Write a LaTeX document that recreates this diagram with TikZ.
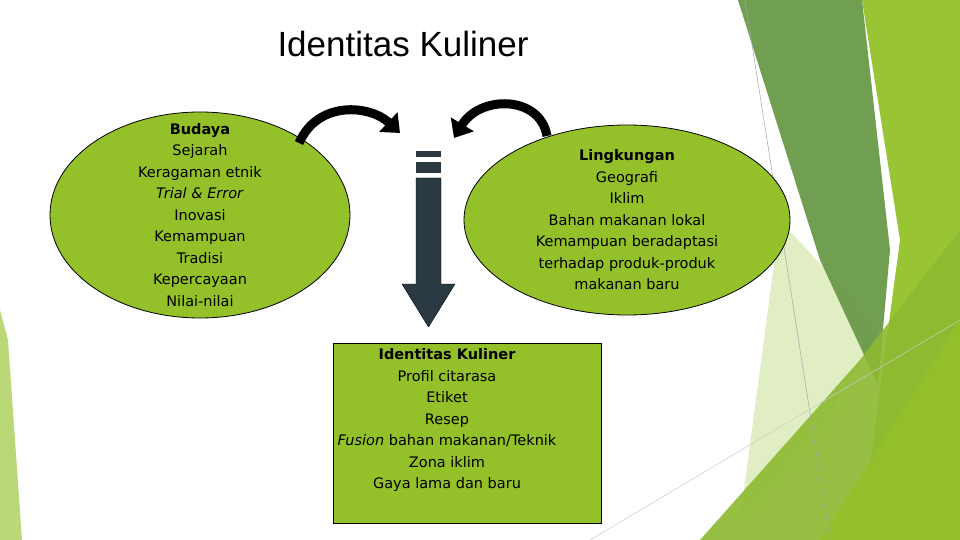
\documentclass[tikz,border=0pt]{standalone}
\usepackage{fontspec}
\setmainfont{DejaVu Sans}
\newfontfamily\titlefont{Liberation Sans}
\usetikzlibrary{arrows.meta,shapes.geometric}
\definecolor{leaf}{HTML}{94C12A}
\definecolor{dkleaf}{HTML}{6A9A48}
\definecolor{dkarrow}{HTML}{2B3A42}
\begin{document}
\begin{tikzpicture}[x=1pt,y=-1pt,
  bubble/.style={draw=black,fill=leaf,line width=0.8pt},
  body/.style={align=center,font=\fontsize{14.5}{21.5}\selectfont},
  curv/.style={line width=9pt,-{Triangle[width=26pt,length=16pt]}}]
\useasboundingbox (0,0) rectangle (960,540);
% background decoration
\fill[white] (0,0) rectangle (960,540);
\fill[fill=leaf!70!white,opacity=0.9] (0,310) -- (8,340) -- (22,540) -- (0,540) -- cycle;
\fill[fill=leaf,opacity=0.95] (862,0) -- (960,0) -- (960,540) -- (860,540) -- (900,240) -- cycle;
\fill[fill=leaf!35!white,opacity=0.8] (780,220) -- (880,330) -- (820,430) -- (740,520) -- cycle;
\fill[fill=dkleaf,opacity=0.95] (738,0) -- (862,0) -- (890,250) -- (878,385) -- (820,260) -- cycle;
\fill[fill=leaf!80!dkleaf,opacity=0.9] (700,540) -- (860,360) -- (960,230) -- (960,540) -- cycle;
\fill[fill=leaf,opacity=0.9] (820,540) -- (960,320) -- (960,540) -- cycle;
\draw[gray!70,line width=0.5pt] (745,0) -- (830,540);
\draw[gray!40,line width=0.5pt] (590,540) -- (960,320);
% title
\node[font=\titlefont\fontsize{35}{40}\selectfont] (title) at (403,44) {Identitas Kuliner};
% ellipses
\node[bubble,ellipse,minimum width=300pt,minimum height=206pt,inner sep=0pt] (bud) at (200,215) {};
\node[body] (budt) at (bud.center) {\textbf{Budaya}\\Sejarah\\Keragaman etnik\\\textit{Trial \& Error}\\Inovasi\\Kemampuan\\Tradisi\\Kepercayaan\\Nilai-nilai};
\node[bubble,ellipse,minimum width=326pt,minimum height=190pt,inner sep=0pt] (lin) at (627,220) {};
\node[body] (lint) at (lin.center) {\textbf{Lingkungan}\\Geografi\\Iklim\\Bahan makanan lokal\\Kemampuan beradaptasi\\terhadap produk-produk\\makanan baru};
% box
\node[bubble,rectangle,minimum width=268pt,minimum height=180pt,inner sep=0pt] (box) at (467,433) {};
\node[body,anchor=north] (boxt) at (447,345) {\textbf{Identitas Kuliner}\\Profil citarasa\\Etiket\\Resep\\\textit{Fusion} bahan makanan/Teknik\\Zona iklim\\Gaya lama dan baru};
% striped arrow
\fill[dkarrow] (416,151) rectangle (441,157);
\fill[dkarrow] (416,162) rectangle (441,173);
\draw[black,line width=0.4pt,fill=dkarrow] (416,178) -- (441,178) -- (441,284) -- (455,284) -- (428.5,327) -- (402,284) -- (416,284) -- cycle;
% curved arrows
\coordinate (a1) at (299,143);
\coordinate (b1) at (400,133);
\draw[curv] (a1) .. controls (318,100) and (370,105) .. (b1);
\coordinate (a2) at (547,136);
\coordinate (b2) at (454,138);
\draw[curv] (a2) .. controls (540,95) and (480,95) .. (b2);
\end{tikzpicture}
\end{document}
